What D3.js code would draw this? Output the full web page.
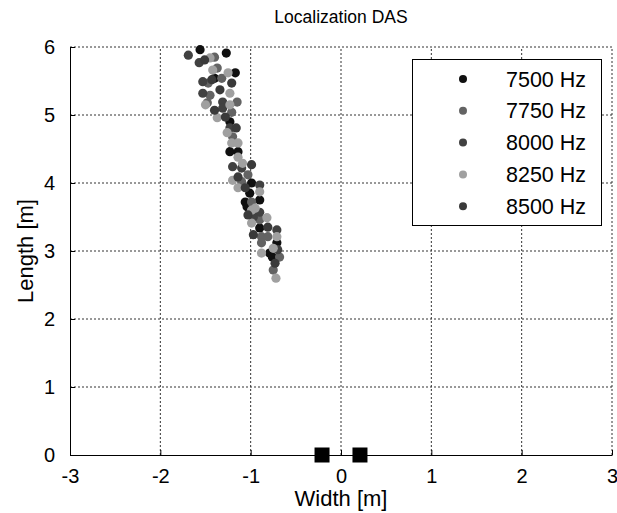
<!DOCTYPE html>
<html>
<head>
<meta charset="utf-8">
<script src="https://cdn.jsdelivr.net/npm/d3@7"></script>
<style>
  body { margin: 0; background: #fff; }
  svg { font-family: "Liberation Sans", Arial, sans-serif; }
</style>
</head>
<body>
<div id="chart"></div>
<script>
// series names and marker colours
var seriesNames = ["7500 Hz", "7750 Hz", "8000 Hz", "8250 Hz", "8500 Hz"];
var seriesColors = ["#101010", "#636363", "#414141", "#a0a0a0", "#3a3a3a"];

// localization points per frequency, [width, length] in m
var pts7500 = [[-1.56,5.96],[-1.27,5.91],[-1.17,5.62],[-1.40,5.54],[-1.23,4.90],[-1.23,4.46],
  [-1.14,4.46],[-0.99,4.00],[-1.01,3.85],[-1.06,3.72],[-0.90,3.75],[-1.04,3.65],[-0.90,3.34],
  [-0.71,3.12],[-0.79,2.97],[-0.76,2.91]];
var pts7750 = [[-1.40,5.85],[-1.37,5.69],[-1.32,5.54],[-1.47,5.47],[-1.45,5.29],[-1.48,5.18],
  [-1.15,5.19],[-1.21,5.04],[-1.20,4.68],[-1.03,4.12],[-1.10,4.02],[-0.90,3.46],[-0.88,3.21],
  [-0.81,3.21],[-0.88,3.12],[-0.68,2.91],[-0.75,2.72],[-0.99,3.72]];
var pts8000 = [[-1.69,5.88],[-1.57,5.77],[-1.53,5.49],[-1.53,5.32],[-1.31,5.19],[-1.31,5.10],
  [-1.23,4.81],[-1.20,4.24],[-1.10,4.22],[-0.90,3.97],[-0.90,3.57],[-0.97,3.50],[-0.71,3.31],
  [-0.70,3.02]];
var pts8250 = [[-1.45,5.84],[-1.42,5.66],[-1.25,5.62],[-1.23,5.32],[-1.50,5.15],[-1.23,5.15],
  [-1.37,4.96],[-1.26,4.74],[-1.21,4.59],[-1.14,4.59],[-1.14,4.38],[-1.09,4.29],[-1.20,4.04],
  [-1.14,3.93],[-0.90,3.87],[-0.95,3.63],[-0.99,3.60],[-0.82,3.49],[-0.99,3.41],[-0.71,3.21],
  [-0.75,3.04],[-0.88,2.97],[-0.72,2.60]];
var pts8500 = [[-1.51,5.81],[-1.43,5.52],[-1.21,5.47],[-1.34,5.37],[-1.40,5.07],[-1.28,4.97],
  [-1.16,4.81],[-0.99,4.27],[-1.14,4.09],[-1.06,3.93],[-1.03,3.53],[-0.81,3.35],[-0.97,3.24],
  [-0.73,2.82]];
var seriesPoints = [pts7500, pts7750, pts8000, pts8250, pts8500];

// microphone positions
var mics = [[-0.21, 0], [0.21, 0]];

var xTicks = [-3, -2, -1, 0, 1, 2, 3];
var yTicks = [0, 1, 2, 3, 4, 5, 6];
var fmt = d => String(d);  // plain hyphen minus like the original

var width = 617, height = 513;
var margin = {top: 47, right: 5, bottom: 58, left: 70};

var svg = d3.select("#chart").append("svg")
    .attr("width", width)
    .attr("height", height);

var x = d3.scaleLinear().domain([-3, 3]).range([margin.left, width - margin.right]);
var y = d3.scaleLinear().domain([0, 6]).range([height - margin.bottom, margin.top]);

// grid
svg.append("g").selectAll("line.vg")
    .data(xTicks.slice(1))
    .enter().append("line")
    .attr("x1", d => x(d)).attr("x2", d => x(d))
    .attr("y1", y(0)).attr("y2", y(6))
    .attr("stroke", "#333").attr("stroke-width", 1)
    .attr("stroke-dasharray", "2,2");
svg.append("g").selectAll("line.hg")
    .data(yTicks.slice(1))
    .enter().append("line")
    .attr("x1", x(-3)).attr("x2", x(3))
    .attr("y1", d => y(d)).attr("y2", d => y(d))
    .attr("stroke", "#333").attr("stroke-width", 1)
    .attr("stroke-dasharray", "2,2");

// axes (ticks inward)
var xAxis = svg.append("g")
    .attr("transform", "translate(0," + y(0) + ")")
    .call(d3.axisBottom(x).tickValues(xTicks).tickFormat(fmt)
        .tickSizeInner(-5).tickSizeOuter(0).tickPadding(14));
var yAxis = svg.append("g")
    .attr("transform", "translate(" + x(-3) + ",0)")
    .call(d3.axisLeft(y).tickValues(yTicks).tickFormat(fmt)
        .tickSizeInner(-5).tickSizeOuter(0).tickPadding(15));
[xAxis, yAxis].forEach(function(a) {
    a.select(".domain").attr("stroke", "#000");
    a.selectAll(".tick line").attr("stroke", "#000");
    a.selectAll(".tick text").attr("font-size", 20).attr("fill", "#000")
        .attr("font-family", "Liberation Sans, Arial, sans-serif");
});

// points
seriesPoints.forEach(function(pts, i) {
    svg.append("g").selectAll("circle")
        .data(pts)
        .enter().append("circle")
        .attr("cx", d => x(d[0]))
        .attr("cy", d => y(d[1]))
        .attr("r", 4.6)
        .attr("fill", seriesColors[i]);
});

// mic squares
svg.append("g").selectAll("rect")
    .data(mics)
    .enter().append("rect")
    .attr("x", d => x(d[0]) - 7.5)
    .attr("y", d => y(d[1]) - 7.5)
    .attr("width", 15).attr("height", 15)
    .attr("fill", "#000");

// title and labels
svg.append("text")
    .attr("x", (x(-3) + x(3)) / 2).attr("y", 23)
    .attr("text-anchor", "middle").attr("font-size", 17.5)
    .text("Localization DAS");
svg.append("text")
    .attr("x", (x(-3) + x(3)) / 2).attr("y", 506)
    .attr("text-anchor", "middle").attr("font-size", 22)
    .text("Width [m]");
svg.append("text")
    .attr("transform", "translate(33," + (y(0) + y(6)) / 2 + ") rotate(-90)")
    .attr("text-anchor", "middle").attr("font-size", 22)
    .text("Length [m]");

// legend
var legend = svg.append("g");
legend.append("rect")
    .attr("x", 412.5).attr("y", 59.5)
    .attr("width", 189).attr("height", 166)
    .attr("fill", "#fff").attr("stroke", "#000");
var entries = legend.selectAll("g.entry")
    .data(seriesNames)
    .enter().append("g")
    .attr("transform", (d, i) => "translate(0," + (79 + i * 31.8) + ")");
entries.append("circle")
    .attr("cx", 463).attr("cy", 0).attr("r", 4)
    .attr("fill", (d, i) => seriesColors[i]);
entries.append("text")
    .attr("x", 506).attr("y", 7.5)
    .attr("font-size", 21.5)
    .text(d => d);
</script>
</body>
</html>
